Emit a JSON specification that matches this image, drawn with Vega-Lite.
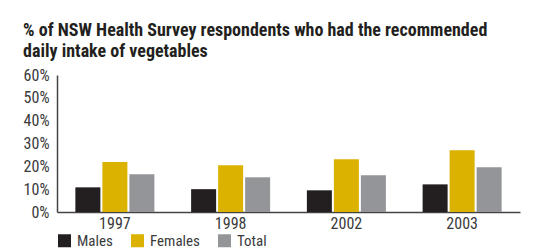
{
  "$schema": "https://vega.github.io/schema/vega-lite/v6.json",
  "width": 463,
  "height": 137,
  "autosize": "none",
  "padding": {"left": 57, "top": 75, "right": 18, "bottom": 40},
  "background": "#ffffff",
  "title": {
    "text": ["% of NSW Health Survey respondents who had the recommended", "daily intake of vegetables"],
    "anchor": "start",
    "frame": "bounds",
    "font": "Liberation Sans Narrow, Roboto Condensed, Liberation Sans, sans-serif",
    "fontSize": 18,
    "fontWeight": "bold",
    "color": "#231f20",
    "lineHeight": 21,
    "offset": 6
  },
  "data": {
    "values": [
      {"year": "1997", "group": "Males", "value": 10.8},
      {"year": "1997", "group": "Females", "value": 21.9},
      {"year": "1997", "group": "Total", "value": 16.5},
      {"year": "1998", "group": "Males", "value": 10.0},
      {"year": "1998", "group": "Females", "value": 20.5},
      {"year": "1998", "group": "Total", "value": 15.2},
      {"year": "2002", "group": "Males", "value": 9.5},
      {"year": "2002", "group": "Females", "value": 23.1},
      {"year": "2002", "group": "Total", "value": 16.1},
      {"year": "2003", "group": "Males", "value": 12.1},
      {"year": "2003", "group": "Females", "value": 27.0},
      {"year": "2003", "group": "Total", "value": 19.6}
    ]
  },
  "mark": {"type": "bar"},
  "encoding": {
    "x": {
      "field": "year", "type": "nominal",
      "scale": {"paddingInner": 0, "paddingOuter": 0},
      "axis": {"title": null, "labelAngle": 0, "ticks": false, "domainColor": "#444444", "domainWidth": 1.5, "labelPadding": 3}
    },
    "xOffset": {
      "field": "group", "type": "nominal", "sort": ["Males", "Females", "Total"],
      "scale": {"paddingInner": 0.074, "paddingOuter": 0.68}
    },
    "y": {
      "field": "value", "type": "quantitative",
      "scale": {"domain": [0, 60], "nice": false},
      "axis": {"title": null, "values": [0, 10, 20, 30, 40, 50, 60], "labelExpr": "datum.value + '%'", "grid": false, "ticks": false, "domainColor": "#444444", "domainWidth": 1.5, "labelPadding": 8}
    },
    "color": {
      "field": "group", "type": "nominal", "sort": ["Males", "Females", "Total"],
      "scale": {"domain": ["Males", "Females", "Total"], "range": ["#231f20", "#dcb200", "#939598"]},
      "legend": {"title": null, "orient": "bottom", "direction": "horizontal", "symbolType": "square", "symbolSize": 169, "symbolOpacity": 1, "symbolStrokeWidth": 0, "columnPadding": 17, "labelOffset": 5, "offset": 2, "labelFontSize": 15}
    }
  },
  "config": {
    "font": "Liberation Sans Narrow, Roboto Condensed, Liberation Sans, sans-serif",
    "axis": {"labelFont": "Liberation Sans Narrow, Roboto Condensed, Liberation Sans, sans-serif", "labelFontSize": 16, "labelColor": "#3a3a3a"},
    "legend": {"labelFont": "Liberation Sans Narrow, Roboto Condensed, Liberation Sans, sans-serif", "labelFontSize": 15, "labelColor": "#3a3a3a"},
    "view": {"stroke": null}
  }
}
